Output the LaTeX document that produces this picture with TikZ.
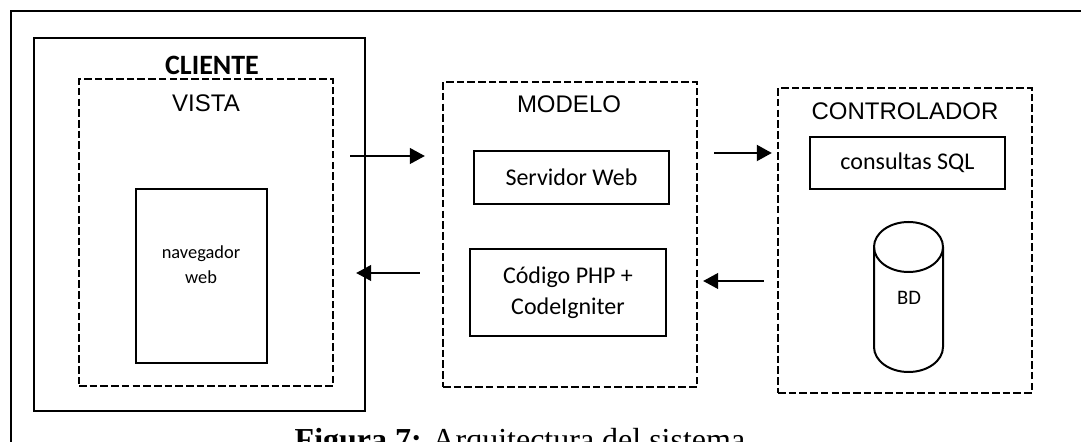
\documentclass[tikz,border=0pt]{standalone}
\usepackage{fontspec}
\setmainfont{Liberation Serif}
\newfontfamily\arial{Liberation Sans}
\newfontfamily\calibri{Carlito}
\usetikzlibrary{calc,arrows.meta}

\tikzset{
	caja/.style={draw, line width=1pt, inner sep=0pt, align=center, font=\calibri\fontsize{12}{15.5}\selectfont},
	capa/.style={draw, line width=1.2pt, dash pattern=on 3.8pt off 1.55pt, inner sep=0pt},
	titulo/.style={anchor=base, font=\arial\fontsize{12}{14}\selectfont},
	flecha/.style={-{Triangle[length=7.5pt,width=8pt]}, line width=0.6pt},
}

\begin{document}
\begin{tikzpicture}[x=0.5pt, y=-0.5pt]
			%%%%% START %%%%%
			
			\useasboundingbox (0,0) rectangle (1081,442);
			\clip (0,0) rectangle (1081,442);
			\draw[line width=1.3pt] (11,11) rectangle (1200,600);
			
			\node[draw, line width=1.3pt, minimum width=165.5pt, minimum height=186.5pt] (cliente) at (199.5,224.5) {};
			\node[anchor=base, font=\calibri\bfseries\fontsize{14}{17}\selectfont] (tcliente) at ($(cliente.north)+(12.5,38)$) {CLIENTE};
			
			\node[capa, minimum width=127pt, minimum height=153.5pt] (vista) at (206,232.5) {};
			\node[titulo] (tvista) at ($(vista.north)+(0,34)$) {VISTA};
			\node[draw, line width=1pt, minimum width=65.5pt, minimum height=87pt] (nav) at (201.5,276) {};
			\node[align=center, font=\calibri\fontsize{9.2}{12.5}\selectfont] (tnav) at (201,265) {navegador\\web};
			
			\node[capa, minimum width=127pt, minimum height=152.5pt] (modelo) at (570,234.5) {};
			\node[titulo] (tmodelo) at ($(modelo.north)+(-1,32)$) {MODELO};
			\node[caja, minimum width=97.5pt, minimum height=26.5pt] (servidor) at (571.5,177.5) {Servidor Web};
			\node[caja, minimum width=98pt, minimum height=43.5pt] (codigo) at (568,292.5) {Código PHP +\\CodeIgniter};
			
			\node[capa, minimum width=127pt, minimum height=152.5pt] (control) at (905,240.5) {};
			\node[titulo] (tcontrol) at ($(control.north)+(0,33)$) {CONTROLADOR};
			\node[caja, minimum width=97.5pt, minimum height=26pt] (consultas) at (907.5,163) {consultas SQL};
			
			\draw[line width=1pt] (908.5,247) ellipse [x radius=17.25pt, y radius=12.5pt];
			\draw[line width=1pt] (874,247) -- (874,347) arc[start angle=180, end angle=360, x radius=17.25pt, y radius=12.5pt] -- (943,247);
			\node[font=\calibri\fontsize{10.3}{12}\selectfont] (bd) at (909,298) {BD};
			
			\draw[flecha, shorten <=8pt, shorten >=8.5pt] (vista.east |- 0,156) -- (modelo.west |- 0,156);
			\draw[flecha, shorten <=11pt, shorten >=11pt] (modelo.west |- 0,273) -- (vista.east |- 0,273);
			\draw[flecha, line width=1pt, shorten <=8pt, shorten >=2.5pt] (modelo.east |- 0,153) -- (control.west |- 0,153);
			\draw[flecha, shorten <=6.5pt, shorten >=2.5pt] (control.west |- 0,281) -- (modelo.east |- 0,281);
			
			\node[anchor=base, font=\fontsize{16}{19}\selectfont] (caption) at (520,451) {\textbf{Figura 7:} Arquitectura del sistema};
			
			%%%%% END %%%%%
\end{tikzpicture}
\end{document}
